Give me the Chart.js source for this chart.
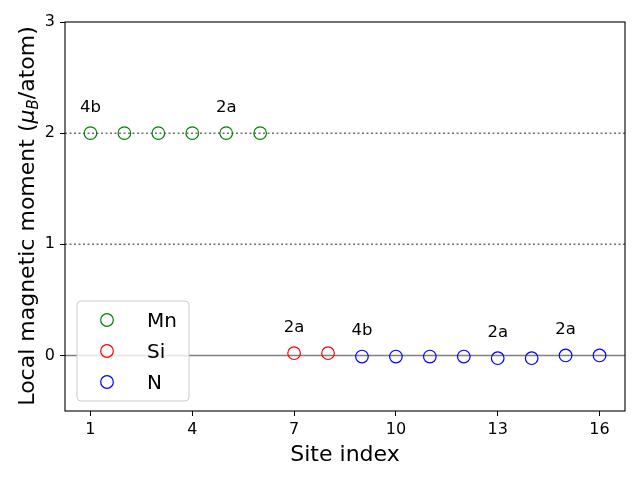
<!DOCTYPE html>
<html><head><meta charset="utf-8">
<script src="https://cdn.jsdelivr.net/npm/chart.js@4"></script>
<style>html,body{margin:0;padding:0;background:#fff}</style>
</head><body><canvas id="c" width="640" height="480"></canvas>
<script>
const sitesMn=[1,2,3,4,5,6];
const momentMn=[2.0,2.0,2.0,2.0,2.0,2.0];
const sitesSi=[7,8];
const momentSi=[0.02,0.02];
const sitesN=[9,10,11,12,13,14,15,16];
const momentN=[-0.01,-0.01,-0.01,-0.01,-0.025,-0.025,0.0,0.0];
const speciesNames=['Mn','Si','N'];
const speciesColors=['#008000','#ff0000','#0000ff'];
const xTicks=[1,4,7,10,13,16];
const yTicks=[0,1,2,3];
const refSolid=[0];
const refDotted=[1,2];
const annotSites=[1,5,7,9,13,15];
const annotY=[2.2,2.2,0.22,0.19,0.175,0.2];
const annotText=['4b','2a','2a','4b','2a','2a'];

const FONT='"DejaVu Sans", sans-serif';
const pts=(xs,ys)=>xs.map((x,i)=>({x:x,y:ys[i]}));
const seriesData=[pts(sitesMn,momentMn),pts(sitesSi,momentSi),pts(sitesN,momentN)];

const datasets=speciesNames.map((n,i)=>({
  label:n,data:seriesData[i],showLine:false,
  pointStyle:'circle',pointRadius:6.3,pointHoverRadius:6.3,
  pointBorderWidth:1.2,borderColor:speciesColors[i],backgroundColor:'rgba(0,0,0,0)',
  pointBackgroundColor:'rgba(0,0,0,0)',pointBorderColor:speciesColors[i]
}));

const decor={
  id:'decor',
  beforeDatasetsDraw(chart){
    const ctx=chart.ctx,a=chart.chartArea,y=chart.scales.y;
    ctx.save();
    ctx.strokeStyle='#808080';ctx.lineWidth=1.5;
    refSolid.forEach(v=>{const p=y.getPixelForValue(v);ctx.setLineDash([]);ctx.beginPath();ctx.moveTo(a.left,p);ctx.lineTo(a.right,p);ctx.stroke();});
    ctx.strokeStyle='#707070';
    refDotted.forEach(v=>{const p=y.getPixelForValue(v);ctx.setLineDash([2,2.5]);ctx.beginPath();ctx.moveTo(a.left,p);ctx.lineTo(a.right,p);ctx.stroke();});
    ctx.restore();
  },
  afterDatasetsDraw(chart){
    const ctx=chart.ctx,a=chart.chartArea,xs=chart.scales.x,ys=chart.scales.y;
    ctx.save();
    ctx.fillStyle='#000';ctx.font='16.5px '+FONT;ctx.textAlign='center';ctx.textBaseline='alphabetic';
    annotText.forEach((t,i)=>{ctx.fillText(t,xs.getPixelForValue(annotSites[i]),ys.getPixelForValue(annotY[i])+1);});
    const lx=77,ly=301,lw=112,lh=100,r=4;
    ctx.beginPath();
    ctx.moveTo(lx+r,ly);ctx.lineTo(lx+lw-r,ly);ctx.arcTo(lx+lw,ly,lx+lw,ly+r,r);
    ctx.lineTo(lx+lw,ly+lh-r);ctx.arcTo(lx+lw,ly+lh,lx+lw-r,ly+lh,r);
    ctx.lineTo(lx+r,ly+lh);ctx.arcTo(lx,ly+lh,lx,ly+lh-r,r);
    ctx.lineTo(lx,ly+r);ctx.arcTo(lx,ly,lx+r,ly,r);ctx.closePath();
    ctx.fillStyle='rgba(255,255,255,0.8)';ctx.fill();
    ctx.strokeStyle='#cccccc';ctx.lineWidth=1;ctx.stroke();
    ctx.font='20px '+FONT;ctx.textAlign='left';
    speciesNames.forEach((n,i)=>{
      const cy=320+i*31;
      ctx.beginPath();ctx.arc(107,cy,6.3,0,Math.PI*2);ctx.strokeStyle=speciesColors[i];ctx.lineWidth=1.2;ctx.stroke();
      ctx.fillStyle='#000';ctx.fillText(n,147,cy+7);
    });
    ctx.restore();
  },
  afterDraw(chart){
    const ctx=chart.ctx,a=chart.chartArea;
    ctx.save();
    ctx.strokeStyle='#000';ctx.lineWidth=1.1;
    ctx.strokeRect(a.left,a.top,a.right-a.left,a.bottom-a.top);
    ctx.fillStyle='#000';ctx.textBaseline='alphabetic';
    ctx.font='22px '+FONT;ctx.textAlign='center';
    ctx.fillText('Site index',(a.left+a.right)/2,461);
    const segs=[
      {t:'Local magnetic moment (',f:'22px '+FONT,dy:0},
      {t:'\u03bc',f:'italic 22px '+FONT,dy:0},
      {t:'B',f:'italic 15px '+FONT,dy:4},
      {t:'/atom)',f:'22px '+FONT,dy:0}
    ];
    let total=0;segs.forEach(s=>{ctx.font=s.f;s.w=ctx.measureText(s.t).width;total+=s.w;});
    ctx.translate(34,216);ctx.rotate(-Math.PI/2);ctx.textAlign='left';
    let xx=-total/2;
    segs.forEach(s=>{ctx.font=s.f;ctx.fillText(s.t,xx,s.dy);xx+=s.w;});
    ctx.restore();
  }
};

new Chart(document.getElementById('c'),{
  type:'scatter',
  data:{datasets:datasets},
  options:{
    responsive:false,animation:false,devicePixelRatio:1,
    layout:{padding:{left:0,top:22,right:15,bottom:0}},
    plugins:{legend:{display:false},tooltip:{enabled:false}},
    scales:{
      x:{type:'linear',min:0.25,max:16.75,
        afterBuildTicks(ax){ax.ticks=xTicks.map(v=>({value:v}));},
        afterFit(ax){ax.height=69;},
        grid:{display:true,drawOnChartArea:false,drawTicks:true,tickLength:5,color:'#000',lineWidth:1},
        border:{display:false},
        ticks:{padding:4,color:'#000',font:{family:FONT,size:16},maxRotation:0,callback:v=>String(v)}
      },
      y:{type:'linear',min:-0.5,max:3,
        afterBuildTicks(ax){ax.ticks=yTicks.map(v=>({value:v}));},
        afterFit(ax){ax.width=65;},
        grid:{display:true,drawOnChartArea:false,drawTicks:true,tickLength:5,color:'#000',lineWidth:1},
        border:{display:false},
        ticks:{padding:5,color:'#000',font:{family:FONT,size:16},callback:v=>String(v)}
      }
    }
  },
  plugins:[decor]
});
</script></body></html>
